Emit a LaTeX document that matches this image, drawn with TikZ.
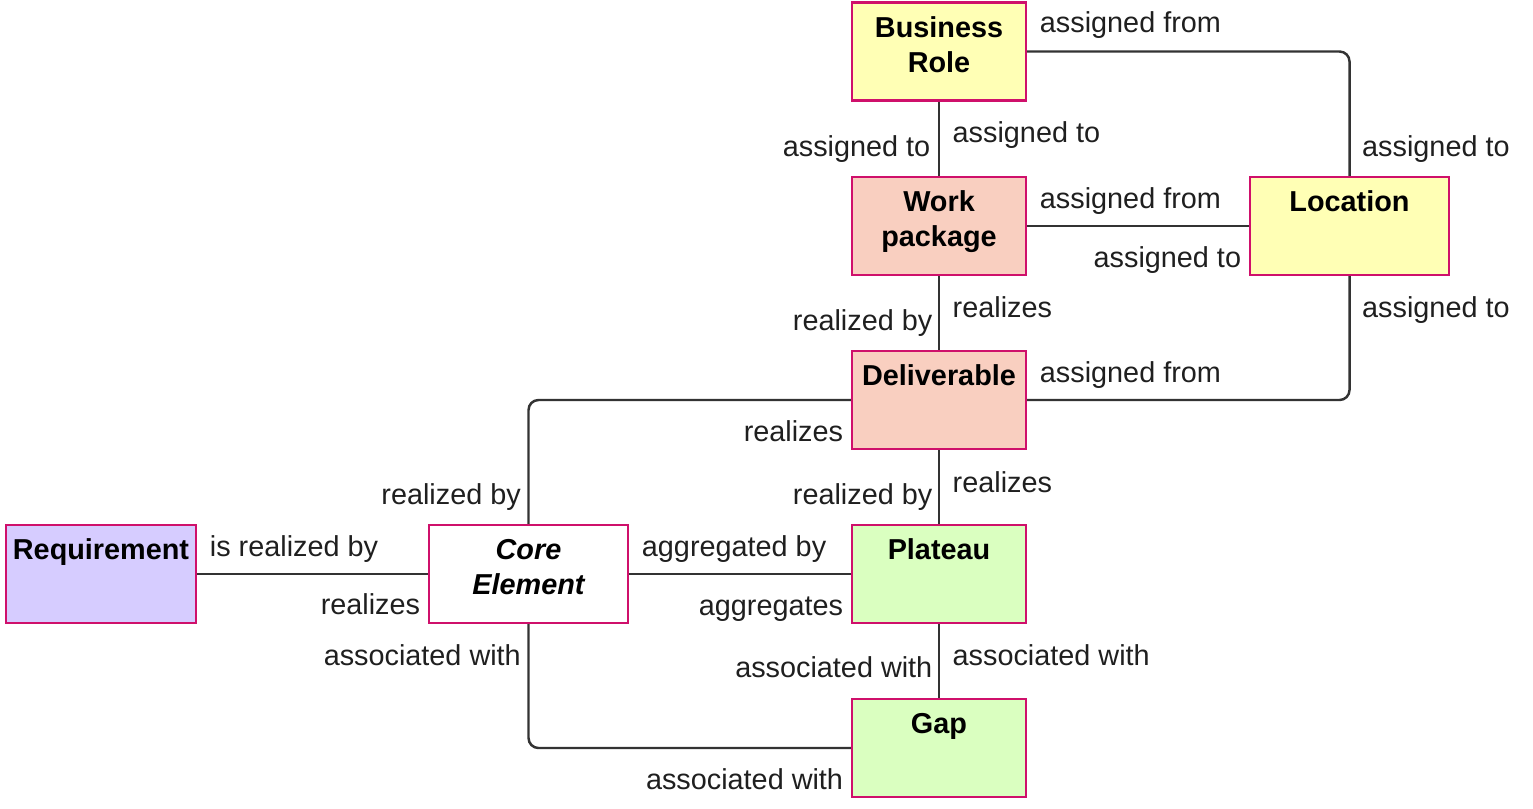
\documentclass[tikz,border=0pt]{standalone}
\usepackage{fontspec}
\setmainfont{Liberation Sans}
\usetikzlibrary{calc}

\definecolor{rolefill}{HTML}{FFFFB5}
\definecolor{workfill}{HTML}{F9CFC0}
\definecolor{plateaufill}{HTML}{DAFFC0}
\definecolor{reqfill}{HTML}{D6CCFF}
\definecolor{boxedge}{HTML}{CF106B}
\definecolor{linkcol}{HTML}{333333}

\tikzset{
  every node/.style={font=\fontsize{8.2}{10}\selectfont, text=black!88},
  elem/.style={draw=boxedge, line width=0.7pt, inner xsep=0pt, inner ysep=0pt,
    text height=0.345cm, text depth=0.635cm, align=center,
    font=\fontsize{8.2}{10}\selectfont\bfseries, text=black},
  link/.style={draw=linkcol, line width=0.7pt, rounded corners=0.1cm},
  rel/.style={inner sep=0pt, yshift=-0.02cm}
}

\begin{document}
\begin{tikzpicture}
                \useasboundingbox (0,0) rectangle (15.33,-8.08);

                % elements
                \node[elem, fill=rolefill, text width=1.74cm] (role) at (9.39,-0.515) {Business\\Role};
                \node[elem, fill=workfill, text width=1.74cm] (work) at (9.39,-2.26) {Work\\package};
                \node[elem, fill=rolefill, text width=1.99cm] (loc) at (13.495,-2.26) {Location};
                \node[elem, fill=workfill, text width=1.74cm] (deliv) at (9.39,-4.0) {Deliverable};
                \node[elem, fill=plateaufill, text width=1.74cm] (plat) at (9.39,-5.74) {Plateau};
                \node[elem, fill=plateaufill, text width=1.74cm] (gap) at (9.39,-7.48) {Gap};
                \node[elem, fill=white, text width=1.99cm] (core) at (5.285,-5.74) {\itshape Core\\Element};
                \node[elem, fill=reqfill, text width=1.90cm] (req) at (1.01,-5.74) {Requirement};

                % relations
                \draw[link] (role.south) -- (work.north);
                \draw[link] (role.east) -| (loc.north);
                \draw[link] (work.east) -- (loc.west);
                \draw[link] (work.south) -- (deliv.north);
                \draw[link] (loc.south) |- (deliv.east);
                \draw[link] (deliv.west) -| (core.north);
                \draw[link] (deliv.south) -- (plat.north);
                \draw[link] (core.east) -- (plat.west);
                \draw[link] (req.east) -- (core.west);
                \draw[link] (plat.south) -- (gap.north);
                \draw[link] (core.south) |- (gap.west);

                % role names at both ends of each relation
                \node[rel, anchor=base east] (rw1) at ($(work.north)+(-0.08,0.21)$) {assigned to};
                \node[rel, anchor=base west] (rw2) at ($(role.south)+(0.13,-0.39)$) {assigned to};
                \node[rel, anchor=base west] (rl1) at ($(role.east)+(0.12,0.21)$) {assigned from};
                \node[rel, anchor=base west] (rl2) at ($(loc.north)+(0.12,0.21)$) {assigned to};
                \node[rel, anchor=base west] (wl1) at ($(work.east)+(0.12,0.20)$) {assigned from};
                \node[rel, anchor=base east] (wl2) at ($(loc.west)+(-0.07,-0.39)$) {assigned to};
                \node[rel, anchor=base east] (wd1) at ($(deliv.north)+(-0.06,0.21)$) {realized by};
                \node[rel, anchor=base west] (wd2) at ($(work.south)+(0.13,-0.39)$) {realizes};
                \node[rel, anchor=base west] (ld1) at ($(loc.south)+(0.12,-0.39)$) {assigned to};
                \node[rel, anchor=base west] (ld2) at ($(deliv.east)+(0.12,0.20)$) {assigned from};
                \node[rel, anchor=base east] (dc1) at ($(deliv.west)+(-0.07,-0.39)$) {realizes};
                \node[rel, anchor=base east] (dc2) at ($(core.north)+(-0.07,0.21)$) {realized by};
                \node[rel, anchor=base east] (dp1) at ($(plat.north)+(-0.06,0.21)$) {realized by};
                \node[rel, anchor=base west] (dp2) at ($(deliv.south)+(0.13,-0.40)$) {realizes};
                \node[rel, anchor=base west] (cp1) at ($(core.east)+(0.12,0.20)$) {aggregated by};
                \node[rel, anchor=base east] (cp2) at ($(plat.west)+(-0.07,-0.39)$) {aggregates};
                \node[rel, anchor=base west] (rc1) at ($(req.east)+(0.12,0.20)$) {is realized by};
                \node[rel, anchor=base east] (rc2) at ($(core.west)+(-0.07,-0.38)$) {realizes};
                \node[rel, anchor=base east] (pg1) at ($(gap.north)+(-0.06,0.22)$) {associated with};
                \node[rel, anchor=base west] (pg2) at ($(plat.south)+(0.13,-0.39)$) {associated with};
                \node[rel, anchor=base east] (cg1) at ($(core.south)+(-0.07,-0.39)$) {associated with};
                \node[rel, anchor=base east] (cg2) at ($(gap.west)+(-0.07,-0.39)$) {associated with};
            \end{tikzpicture}
\end{document}
